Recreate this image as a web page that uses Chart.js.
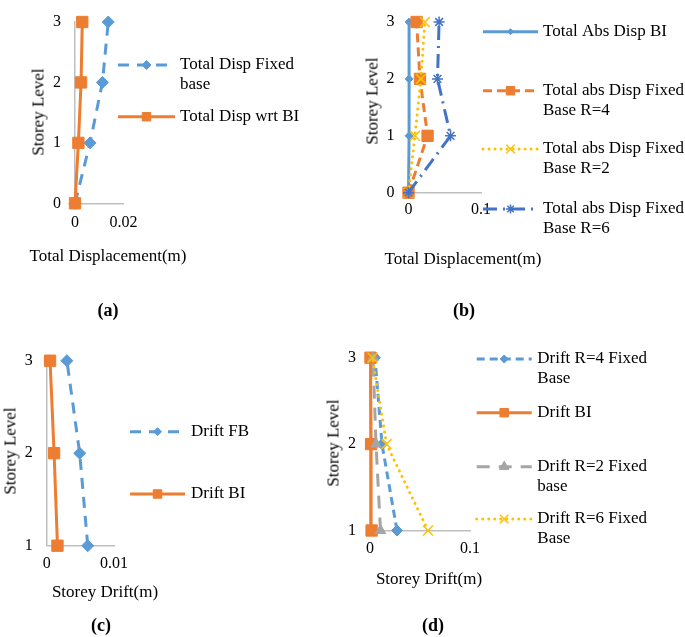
<!DOCTYPE html>
<html>
<head>
<meta charset="utf-8">
<script src="https://cdn.jsdelivr.net/npm/chart.js@4/dist/chart.umd.min.js"></script>
<style>
  html, body { margin:0; padding:0; background:#fff; }
  #wrap { position:relative; width:685px; height:637px; background:#fff; overflow:hidden; }
  canvas { position:absolute; }
  .t { position:absolute; font-family:'Liberation Serif','Times New Roman',serif; font-size:17px; line-height:1;
       color:#000; white-space:nowrap; transform:translate(-50%,-50%); }
  .r { transform:translate(-50%,-50%) rotate(-90deg); }
  .p { font-weight:bold; font-size:18px; }
</style>
</head>
<body>
<div id="wrap">
  <canvas id="cA" width="340" height="280" style="left:0;top:0"></canvas>
  <canvas id="cB" width="345" height="280" style="left:340px;top:0"></canvas>
  <canvas id="cC" width="320" height="317" style="left:0;top:320px"></canvas>
  <canvas id="cD" width="365" height="317" style="left:320px;top:320px"></canvas>

  <div class="t" style="left:108px;top:255px">Total Displacement(m)</div>
  <div class="t r" style="left:37.5px;top:112px">Storey Level</div>
  <div class="t p" style="left:108px;top:310px">(a)</div>

  <div class="t" style="left:463px;top:258px">Total Displacement(m)</div>
  <div class="t r" style="left:372px;top:101px">Storey Level</div>
  <div class="t p" style="left:464px;top:310px">(b)</div>

  <div class="t" style="left:105px;top:591px">Storey Drift(m)</div>
  <div class="t r" style="left:9.5px;top:451px">Storey Level</div>
  <div class="t p" style="left:101px;top:625px">(c)</div>

  <div class="t" style="left:429px;top:577.5px">Storey Drift(m)</div>
  <div class="t r" style="left:332.5px;top:442.5px">Storey Level</div>
  <div class="t p" style="left:433px;top:625px">(d)</div>
</div>
<script>
// ---------------- data ----------------
const levelsAB = [0, 1, 2, 3];
const levelsCD = [1, 2, 3];
const yTicksAB = [0, 1, 2, 3];
const yTicksCD = [1, 2, 3];

// (a) Total displacement (m)
const dispFixedA = [0, 0.0062, 0.0113, 0.0137];
const dispBIA    = [0, 0.0014, 0.0025, 0.0030];
const legendA = [["Total Disp Fixed", "base"], ["Total Disp wrt BI"]];
const xTicksA = [0, 0.02];

// (b) Total absolute displacement (m)
const absBIB = [0, 0.0008, 0.0008, 0.0008];
const absR4B = [0, 0.0263, 0.0158, 0.0112];
const absR2B = [0, 0.0089, 0.0171, 0.0226];
const absR6B = [0, 0.0580, 0.0400, 0.0422];
const legendB = [["Total Abs Disp BI"], ["Total abs Disp Fixed", "Base R=4"],
                 ["Total abs Disp Fixed", "Base R=2"], ["Total abs Disp Fixed", "Base R=6"]];
const xTicksB = [0, 0.1];

// (c) Storey drift (m), levels 1..3
const driftFBC = [0.0061, 0.0049, 0.0030];
const driftBIC = [0.0016, 0.0011, 0.0005];
const legendC = [["Drift FB"], ["Drift BI"]];
const xTicksC = [0, 0.01];

// (d) Storey drift (m), levels 1..3
const driftR4D = [0.0270, 0.0120, 0.0050];
const driftBID = [0.0016, 0.0011, 0.0005];
const driftR2D = [0.0105, 0.0060, 0.0030];
const driftR6D = [0.0580, 0.0165, 0.0025];
const legendD = [["Drift R=4 Fixed", "Base"], ["Drift BI"], ["Drift R=2 Fixed", "base"], ["Drift R=6 Fixed", "Base"]];
const xTicksD = [0, 0.1];

// ---------------- styling ----------------
const SERIF = "'Liberation Serif','Times New Roman',serif";
const BLUE = '#5B9BD5', ORANGE = '#ED7D31', GRAY = '#A5A5A5', YELLOW = '#FFC000', DBLUE = '#4472C4';
const AXIS = '#BFBFBF';

function pts(xs, ys) { return xs.map((x, i) => ({ x: x, y: ys[i] })); }

function series(label, xs, ys, color, style) {
  return Object.assign({
    label: label, data: pts(xs, ys), showLine: true, tension: 0, clip: false,
    borderColor: color, backgroundColor: color, borderWidth: 3,
    pointBackgroundColor: color, pointBorderColor: color, pointBorderWidth: 1,
    borderCapStyle: 'butt', borderDash: []
  }, style);
}

function legendPlugin(lg) {
  return {
    id: 'xlLegend',
    afterDraw(chart) {
      const ctx = chart.ctx;
      chart.data.datasets.forEach((ds, i) => {
        const it = lg.items[i];
        const y = it.y;
        ctx.save();
        ctx.strokeStyle = ds.borderColor;
        ctx.lineWidth = ds.borderWidth;
        ctx.setLineDash(ds.borderDash || []);
        ctx.lineCap = ds.borderCapStyle || 'butt';
        ctx.beginPath(); ctx.moveTo(lg.x0, y); ctx.lineTo(lg.x1, y); ctx.stroke();
        ctx.setLineDash([]);
        ctx.lineCap = 'butt';
        ctx.fillStyle = ds.pointBackgroundColor;
        ctx.strokeStyle = ds.pointBorderColor;
        ctx.lineWidth = ds.pointBorderWidth;
        Chart.helpers.drawPoint(ctx, { pointStyle: ds.pointStyle, radius: it.r, borderWidth: ds.pointBorderWidth, rotation: 0 },
                                (lg.x0 + lg.x1) / 2, y);
        ctx.fillStyle = '#000';
        ctx.font = '17px ' + SERIF;
        ctx.textBaseline = 'middle';
        ctx.textAlign = 'left';
        it.lines.forEach((t, k) => ctx.fillText(t, lg.tx, y + k * 20));
        ctx.restore();
      });
    }
  };
}

function makeChart(id, c) {
  const tickFont = { family: SERIF, size: 16, lineHeight: 1 };
  return new Chart(document.getElementById(id), {
    type: 'scatter',
    data: { datasets: c.datasets.map((d, i) => Object.assign(d, { order: -i })) },
    options: {
      responsive: false, animation: false, events: [],
      layout: { padding: { left: 0, top: c.T, right: c.W - c.R, bottom: 0 } },
      plugins: { legend: { display: false }, tooltip: { enabled: false } },
      scales: {
        x: {
          type: 'linear', min: c.xTicks[0], max: c.xTicks[c.xTicks.length - 1],
          grid: { display: false, drawTicks: false }, border: { display: true, color: AXIS, width: 1.5 },
          ticks: { padding: c.xPad, font: tickFont, color: '#000', maxRotation: 0, autoSkip: false,
                   callback: v => String(v) },
          afterBuildTicks: s => { s.ticks = c.xTicks.map(v => ({ value: v })); },
          afterFit: s => { s.height = c.H - c.B; }
        },
        y: {
          type: 'linear', min: c.yTicks[0], max: c.yTicks[c.yTicks.length - 1],
          grid: { display: false, drawTicks: false }, border: { display: true, color: AXIS, width: 1.5 },
          ticks: { padding: 14, font: tickFont, color: '#000', autoSkip: false, callback: v => String(v) },
          afterBuildTicks: s => { s.ticks = c.yTicks.map(v => ({ value: v })); },
          afterFit: s => { s.width = c.L; }
        }
      }
    },
    plugins: [legendPlugin(c.legend)]
  });
}

// (a)
makeChart('cA', {
  W: 340, H: 280, L: 75, R: 123.5, T: 20.5, B: 203.3, xPad: 11,
  xTicks: xTicksA, yTicks: yTicksAB,
  datasets: [
    series(legendA[0].join(' '), dispFixedA, levelsAB, BLUE, { borderDash: [11, 8], pointStyle: 'rectRot', pointRadius: 6 }),
    series(legendA[1].join(' '), dispBIA, levelsAB, ORANGE, { pointStyle: 'rect', pointRadius: 8 })
  ],
  legend: { x0: 118, x1: 175, tx: 180, items: [
    { y: 65, r: 4.5, lines: legendA[0] }, { y: 116.7, r: 6, lines: legendA[1] } ] }
});

// (b)
makeChart('cB', {
  W: 345, H: 280, L: 408.5 - 340, R: 481 - 340, T: 8.3, B: 192.7, xPad: 9,
  xTicks: xTicksB, yTicks: yTicksAB,
  datasets: [
    series(legendB[0].join(' '), absBIB, levelsAB, BLUE, { pointStyle: 'rectRot', pointRadius: 4 }),
    series(legendB[1].join(' '), absR4B, levelsAB, ORANGE, { borderDash: [9, 5], pointStyle: 'rect', pointRadius: 8 }),
    series(legendB[2].join(' '), absR2B, levelsAB, YELLOW, { borderDash: [0.01, 6], borderCapStyle: 'round', pointStyle: 'crossRot', pointRadius: 7, pointBorderWidth: 1.5 }),
    series(legendB[3].join(' '), absR6B, levelsAB, DBLUE, { borderDash: [14, 6, 2, 6], pointStyle: 'star', pointRadius: 5.5, pointBorderWidth: 1.5 })
  ],
  legend: { x0: 143, x1: 198, tx: 203, items: [
    { y: 31.7, r: 3, lines: legendB[0] }, { y: 90.7, r: 6, lines: legendB[1] },
    { y: 149, r: 6, lines: legendB[2] }, { y: 209, r: 4.5, lines: legendB[3] } ] }
});

// (c)
makeChart('cC', {
  W: 320, H: 317, L: 46.7, R: 114, T: 40.7, B: 225.7, xPad: 10,
  xTicks: xTicksC, yTicks: yTicksCD,
  datasets: [
    series(legendC[0].join(' '), driftFBC, levelsCD, BLUE, { borderDash: [11, 8], pointStyle: 'rectRot', pointRadius: 6 }),
    series(legendC[1].join(' '), driftBIC, levelsCD, ORANGE, { pointStyle: 'rect', pointRadius: 8 })
  ],
  legend: { x0: 130, x1: 185, tx: 191, items: [
    { y: 111.7, r: 4, lines: legendC[0] }, { y: 174, r: 6, lines: legendC[1] } ] }
});

// (d)
makeChart('cD', {
  W: 365, H: 317, L: 50, R: 150, T: 37.7, B: 210.5, xPad: 10,
  xTicks: xTicksD, yTicks: yTicksCD,
  datasets: [
    series(legendD[0].join(' '), driftR4D, levelsCD, BLUE, { borderDash: [8, 5], pointStyle: 'rectRot', pointRadius: 5.5 }),
    series(legendD[1].join(' '), driftBID, levelsCD, ORANGE, { pointStyle: 'rect', pointRadius: 8 }),
    series(legendD[2].join(' '), driftR2D, levelsCD, GRAY, { borderDash: [13, 9], pointStyle: 'triangle', pointRadius: 6 }),
    series(legendD[3].join(' '), driftR6D, levelsCD, YELLOW, { borderDash: [0.01, 6], borderCapStyle: 'round', pointStyle: 'crossRot', pointRadius: 7, pointBorderWidth: 1.5 })
  ],
  legend: { x0: 156.7, x1: 211.7, tx: 217.3, items: [
    { y: 39, r: 4, lines: legendD[0] }, { y: 92.7, r: 6, lines: legendD[1] },
    { y: 146.7, r: 5.5, lines: legendD[2] }, { y: 199, r: 6, lines: legendD[3] } ] }
});
</script>
</body>
</html>
